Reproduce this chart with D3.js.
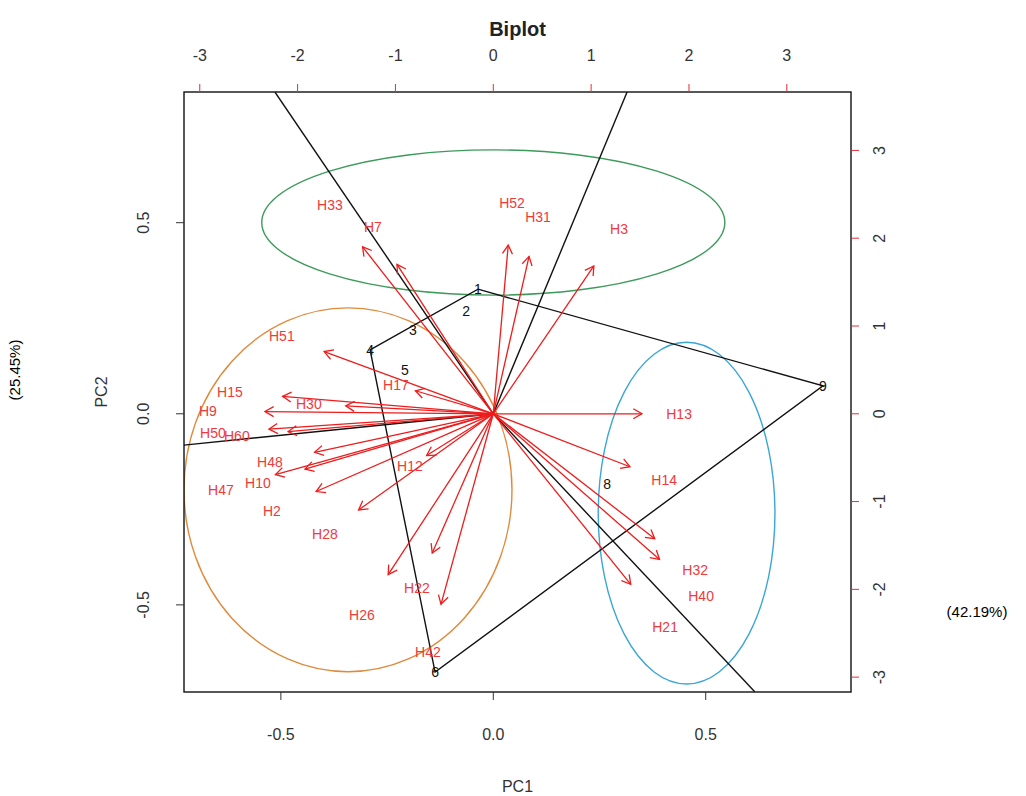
<!DOCTYPE html>
<html><head><meta charset="utf-8">
<script src="https://cdn.jsdelivr.net/npm/d3@7"></script>
<style>
body{margin:0;background:#fff;}
text{font-family:"Liberation Sans",Arial,sans-serif;}
</style></head>
<body><svg id="c" width="1026" height="796"></svg>
<script>
// Scores (bottom/left axes)
const scoreLabels = ["1","2","3","4","5","6","8","9"];
const scoreX = [-0.036,-0.064,-0.189,-0.290,-0.208,-0.137,0.268,0.776];
const scoreY = [0.326,0.269,0.219,0.167,0.115,-0.676,-0.184,0.073];
// polygon vertices (by score label)
const polygonOrder = ["1","9","6","4"];
// rays from origin (endpoints, primary units)
const rayX = [-0.514,0.315,-0.728,0.616];
const rayY = [0.842,0.842,-0.082,-0.728];
// Variables (top/right axes); arrows drawn to 0.8 of the value
const varLabels = ["H33","H7","H52","H31","H3","H51","H17","H15","H9","H30","H50","H60","H48","H10","H47","H2","H28","H12","H26","H22","H42","H13","H14","H32","H40","H21"];
const varX = [-1.670,-1.230,0.191,0.457,1.285,-2.161,-0.995,-2.692,-2.917,-1.885,-2.866,-2.621,-2.283,-2.406,-2.784,-2.263,-1.721,-0.852,-1.343,-0.780,-0.668,1.899,1.746,2.063,2.124,1.756];
const varY = [2.378,2.127,2.401,2.241,2.105,0.886,0.328,0.248,0.032,0.112,-0.219,-0.253,-0.549,-0.788,-0.868,-1.107,-1.369,-0.595,-2.290,-1.984,-2.713,0.0,-0.754,-1.779,-2.075,-2.428];
// Ellipses (primary units): cx, cy, rx, ry
const ellipseCX = [0.0,-0.342,0.455];
const ellipseCY = [0.5005,-0.199,-0.260];
const ellipseRX = [0.545,0.386,0.208];
const ellipseRY = [0.19,0.476,0.447];
const ellipseColors = ["#3c9a5a","#e08a3c","#3aa6d6"];
// Axis ticks
const primTicks = [-0.5,0,0.5];
const primTickLabels = ["-0.5","0.0","0.5"];
const secTicks = [-3,-2,-1,0,1,2,3];
const secTickLabels = ["-3","-2","-1","0","1","2","3"];
const lim = [-0.728,0.842];
const kx = 0.2303, ky = 0.2297;

const svg = d3.select("#c");
const L=184,R=851,T=92,B=692;
const x = d3.scaleLinear().domain(lim).range([L,R]);
const y = d3.scaleLinear().domain(lim).range([B,T]);
const x2 = d3.scaleLinear().domain([lim[0]/kx,lim[1]/kx]).range([L,R]);
const y2 = d3.scaleLinear().domain([lim[0]/ky,lim[1]/ky]).range([B,T]);

svg.append("defs").append("clipPath").attr("id","clip")
  .append("rect").attr("x",L).attr("y",T).attr("width",R-L).attr("height",B-T);
const g = svg.append("g").attr("clip-path","url(#clip)");

// ellipses
ellipseCX.forEach((cx,i)=>{
  g.append("ellipse").attr("cx",x(cx)).attr("cy",y(ellipseCY[i]))
   .attr("rx",x(ellipseRX[i])-x(0)).attr("ry",y(0)-y(ellipseRY[i]))
   .attr("fill","none").attr("stroke",ellipseColors[i]).attr("stroke-width",1.4);
});

// polygon
const sIdx = l=>scoreLabels.indexOf(l);
const poly = polygonOrder.map(l=>[x(scoreX[sIdx(l)]),y(scoreY[sIdx(l)])]);
g.append("path").attr("d",d3.line()(poly)+"Z").attr("fill","none")
 .attr("stroke","#111").attr("stroke-width",1.4);
// rays
rayX.forEach((rx,i)=>{
  g.append("line").attr("x1",x(0)).attr("y1",y(0)).attr("x2",x(rx)).attr("y2",y(rayY[i]))
   .attr("stroke","#111").attr("stroke-width",1.4);
});

// arrows
const red="#ee1c1c";
varLabels.forEach((lab,i)=>{
  const ex=x2(varX[i]*0.8), ey=y2(varY[i]*0.8), ox=x2(0), oy=y2(0);
  g.append("line").attr("x1",ox).attr("y1",oy).attr("x2",ex).attr("y2",ey)
   .attr("stroke",red).attr("stroke-width",1.3);
  const ang=Math.atan2(ey-oy,ex-ox), len=10, a=Math.PI/6;
  const p1=[ex-len*Math.cos(ang-a),ey-len*Math.sin(ang-a)];
  const p2=[ex-len*Math.cos(ang+a),ey-len*Math.sin(ang+a)];
  g.append("path").attr("d",`M${p1[0]},${p1[1]}L${ex},${ey}L${p2[0]},${p2[1]}`)
   .attr("fill","none").attr("stroke",red).attr("stroke-width",1.3);
});
// variable labels
varLabels.forEach((lab,i)=>{
  g.append("text").attr("x",x2(varX[i])).attr("y",y2(varY[i])).attr("dy","0.35em")
   .attr("text-anchor","middle").attr("font-size",14).attr("fill","#f03a3a").text(lab);
});
// score labels
scoreLabels.forEach((lab,i)=>{
  g.append("text").attr("x",x(scoreX[i])).attr("y",y(scoreY[i])).attr("dy","0.35em")
   .attr("text-anchor","middle").attr("font-size",14).attr("fill","#111").text(lab);
});

// box
svg.append("rect").attr("x",L).attr("y",T).attr("width",R-L).attr("height",B-T)
 .attr("fill","none").attr("stroke","#111").attr("stroke-width",1.4);

const tc="#333";
// bottom axis
primTicks.forEach((t,i)=>{
  svg.append("line").attr("x1",x(t)).attr("x2",x(t)).attr("y1",B).attr("y2",B+8).attr("stroke","#333");
  svg.append("text").attr("x",x(t)).attr("y",734).attr("dy","0.35em").attr("text-anchor","middle")
   .attr("font-size",16).attr("fill",tc).text(primTickLabels[i]);
});
// left axis
primTicks.forEach((t,i)=>{
  svg.append("line").attr("y1",y(t)).attr("y2",y(t)).attr("x1",L).attr("x2",L-8).attr("stroke","#333");
  svg.append("text").attr("transform",`translate(143,${y(t)}) rotate(-90)`).attr("dy","0.35em")
   .attr("text-anchor","middle").attr("font-size",16).attr("fill",tc).text(primTickLabels[i]);
});
// top axis
secTicks.forEach((t,i)=>{
  svg.append("line").attr("x1",x2(t)).attr("x2",x2(t)).attr("y1",T).attr("y2",T-8).attr("stroke","#e0303a");
  svg.append("text").attr("x",x2(t)).attr("y",55).attr("dy","0.35em").attr("text-anchor","middle")
   .attr("font-size",16).attr("fill",tc).text(secTickLabels[i]);
});
// right axis
secTicks.forEach((t,i)=>{
  svg.append("line").attr("y1",y2(t)).attr("y2",y2(t)).attr("x1",R).attr("x2",R+8).attr("stroke","#e0303a");
  svg.append("text").attr("transform",`translate(879,${y2(t)}) rotate(-90)`).attr("dy","0.35em")
   .attr("text-anchor","middle").attr("font-size",16).attr("fill",tc).text(secTickLabels[i]);
});

// titles
svg.append("text").attr("x",(L+R)/2).attr("y",29).attr("dy","0.35em").attr("text-anchor","middle")
 .attr("font-size",20).attr("font-weight","bold").attr("fill","#222").text("Biplot");
svg.append("text").attr("x",(L+R)/2).attr("y",786).attr("dy","0.35em").attr("text-anchor","middle")
 .attr("font-size",16).attr("fill","#333").text("PC1");
svg.append("text").attr("transform",`translate(101,${(T+B)/2}) rotate(-90)`).attr("dy","0.35em")
 .attr("text-anchor","middle").attr("font-size",16).attr("fill","#333").text("PC2");
svg.append("text").attr("transform",`translate(15,370) rotate(-90)`).attr("dy","0.35em")
 .attr("text-anchor","middle").attr("font-size",15).attr("font-family","'Open Sans',sans-serif").attr("fill","#000").text("(25.45%)");
svg.append("text").attr("x",977).attr("y",612).attr("dy","0.35em")
 .attr("text-anchor","middle").attr("font-size",15).attr("font-family","'Open Sans',sans-serif").attr("fill","#000").text("(42.19%)");
</script></body></html>
